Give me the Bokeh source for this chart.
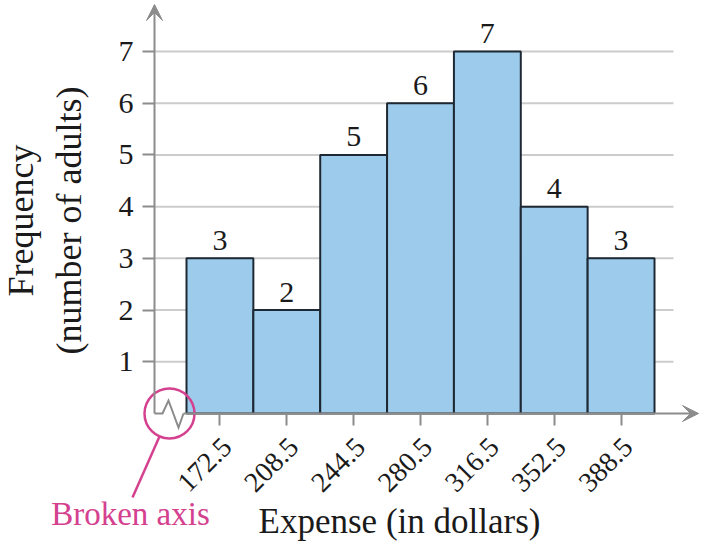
from math import pi
from bokeh.plotting import figure
from bokeh.models import LinearAxis, FixedTicker, Arrow, VeeHead
from bokeh.core.properties import value
from bokeh.embed import file_html
from bokeh.resources import INLINE

# ---- data ----
midpoints = [172.5, 208.5, 244.5, 280.5, 316.5, 352.5, 388.5]
frequency = [3, 2, 5, 6, 7, 4, 3]
tick_labels = ["172.5", "208.5", "244.5", "280.5", "316.5", "352.5", "388.5"]
y_ticks = [1, 2, 3, 4, 5, 6, 7]
x_title = "Expense (in dollars)"
y_title = "Frequency\n(number of adults)"
note = "Broken axis"

# ---- geometry / style ----
W, H = 700, 552
cw = midpoints[1] - midpoints[0]
left = [m - cw / 2 for m in midpoints]
right = [m + cw / 2 for m in midpoints]

# pixel anchors for the frame mapping
PX_FIRST, PX_LAST = 186.0, 654.0      # first bar left edge, last bar right edge
PY_ZERO, PY_TOP = 413.0, 51.0          # y = 0 and y = max tick
sx = (PX_LAST - PX_FIRST) / (right[-1] - left[0])
sy = (PY_ZERO - PY_TOP) / (y_ticks[-1] - 0)
X0 = left[0] - PX_FIRST / sx
X1 = X0 + W / sx
Y1 = y_ticks[-1] + PY_TOP / sy
Y0 = Y1 - H / sy
def dx(px): return px / sx
def dy(px): return px / sy

SERIF = "Liberation Serif"
AXIS_GRAY = "#8c8c8c"
GRID_GRAY = "#cccccc"
BAR_FILL = "#9dcbec"
BAR_LINE = "#1e2833"
PINK = "#d4418e"
TEXT = "#1a1a1a"

YAX = left[0] - dx(32)
GRID_END = right[-1] + dx(19)

p = figure(width=W, height=H, x_range=(X0, X1), y_range=(Y0, Y1),
           min_border=0, toolbar_location=None, output_backend="svg",
           x_axis_location=None, y_axis_location=None)
p.outline_line_color = None
p.background_fill_color = "white"
p.border_fill_color = "white"
p.grid.visible = False

# grid lines
p.segment(x0=[YAX] * len(y_ticks), y0=y_ticks, x1=[GRID_END] * len(y_ticks), y1=y_ticks,
          line_color=GRID_GRAY, line_width=2)

# bars
p.quad(left=left, right=right, bottom=0, top=frequency,
       fill_color=BAR_FILL, line_color=BAR_LINE, line_width=2)

# bar value labels
p.text(x=midpoints, y=frequency, text=[str(f) for f in frequency], y_offset=-18,
       text_font=value(SERIF), text_font_size=value("30px"), text_color=TEXT,
       text_align="center", text_baseline="alphabetic")

# rotated class-midpoint labels under the x axis
p.text(x=midpoints, y=[0] * len(midpoints), text=tick_labels, angle=pi / 4,
       x_offset=7, y_offset=29,
       text_font=value(SERIF), text_font_size=value("28px"), text_color=TEXT,
       text_align="right", text_baseline="middle")

# axis lines with arrows
p.add_layout(Arrow(end=VeeHead(size=16, fill_color=AXIS_GRAY, line_color=AXIS_GRAY),
                   x_start=YAX, y_start=0, x_end=YAX, y_end=Y1 - dy(4),
                   line_color=AXIS_GRAY, line_width=2))
p.add_layout(Arrow(end=VeeHead(size=16, fill_color=AXIS_GRAY, line_color=AXIS_GRAY),
                   x_start=YAX + dx(29), y_start=0, x_end=X1 - dx(2), y_end=0,
                   line_color=AXIS_GRAY, line_width=2))

# broken-axis zigzag
zz = [(0, 0), (8, 0), (14, 13), (24, -14), (29, 0)]
p.line(x=[YAX + dx(a) for a, b in zz], y=[dy(b) for a, b in zz],
       line_color=AXIS_GRAY, line_width=2, line_join="miter")

# pink circle and leader
cx, cy = YAX + dx(15), 0
p.scatter(x=[cx], y=[cy], marker="circle", size=50, fill_color=None,
          line_color=PINK, line_width=2.5)
p.segment(x0=[cx - dx(10)], y0=[cy - dy(23)], x1=[cx - dx(37)], y1=[cy - dy(84)],
          line_color=PINK, line_width=2.5)
p.text(x=[YAX - dx(24)], y=[-dy(100)], text=[note],
       text_font=value(SERIF), text_font_size=value("33px"), text_color=PINK,
       text_align="center", text_baseline="alphabetic")

# axes
xaxis = LinearAxis(fixed_location=0, ticker=FixedTicker(ticks=midpoints),
                   bounds=(YAX, 401.0))
xaxis.major_label_overrides = {m: "" for m in midpoints}
xaxis.axis_line_color = None
xaxis.major_tick_in = 0
xaxis.major_tick_out = 12
xaxis.major_tick_line_color = AXIS_GRAY
xaxis.major_tick_line_width = 2
xaxis.minor_tick_line_color = None
xaxis.major_label_standoff = 0
xaxis.axis_label = x_title
xaxis.axis_label_text_font = SERIF
xaxis.axis_label_text_font_size = "35px"
xaxis.axis_label_text_font_style = "normal"
xaxis.axis_label_text_color = TEXT
xaxis.axis_label_standoff = 76
p.add_layout(xaxis, "below")

yaxis = LinearAxis(fixed_location=YAX, ticker=FixedTicker(ticks=y_ticks),
                   bounds=(0, 7.46))
yaxis.axis_line_color = None
yaxis.major_tick_in = 0
yaxis.major_tick_out = 12
yaxis.major_tick_line_color = AXIS_GRAY
yaxis.major_tick_line_width = 2
yaxis.minor_tick_line_color = None
yaxis.major_label_standoff = 9
yaxis.major_label_text_font = SERIF
yaxis.major_label_text_font_size = "30px"
yaxis.major_label_text_color = TEXT
yaxis.axis_label = y_title
yaxis.axis_label_text_font = SERIF
yaxis.axis_label_text_font_size = "36px"
yaxis.axis_label_text_font_style = "normal"
yaxis.axis_label_text_color = TEXT
yaxis.axis_label_standoff = 27
p.add_layout(yaxis, "left")

open("out.html", "w").write(file_html(p, INLINE))
